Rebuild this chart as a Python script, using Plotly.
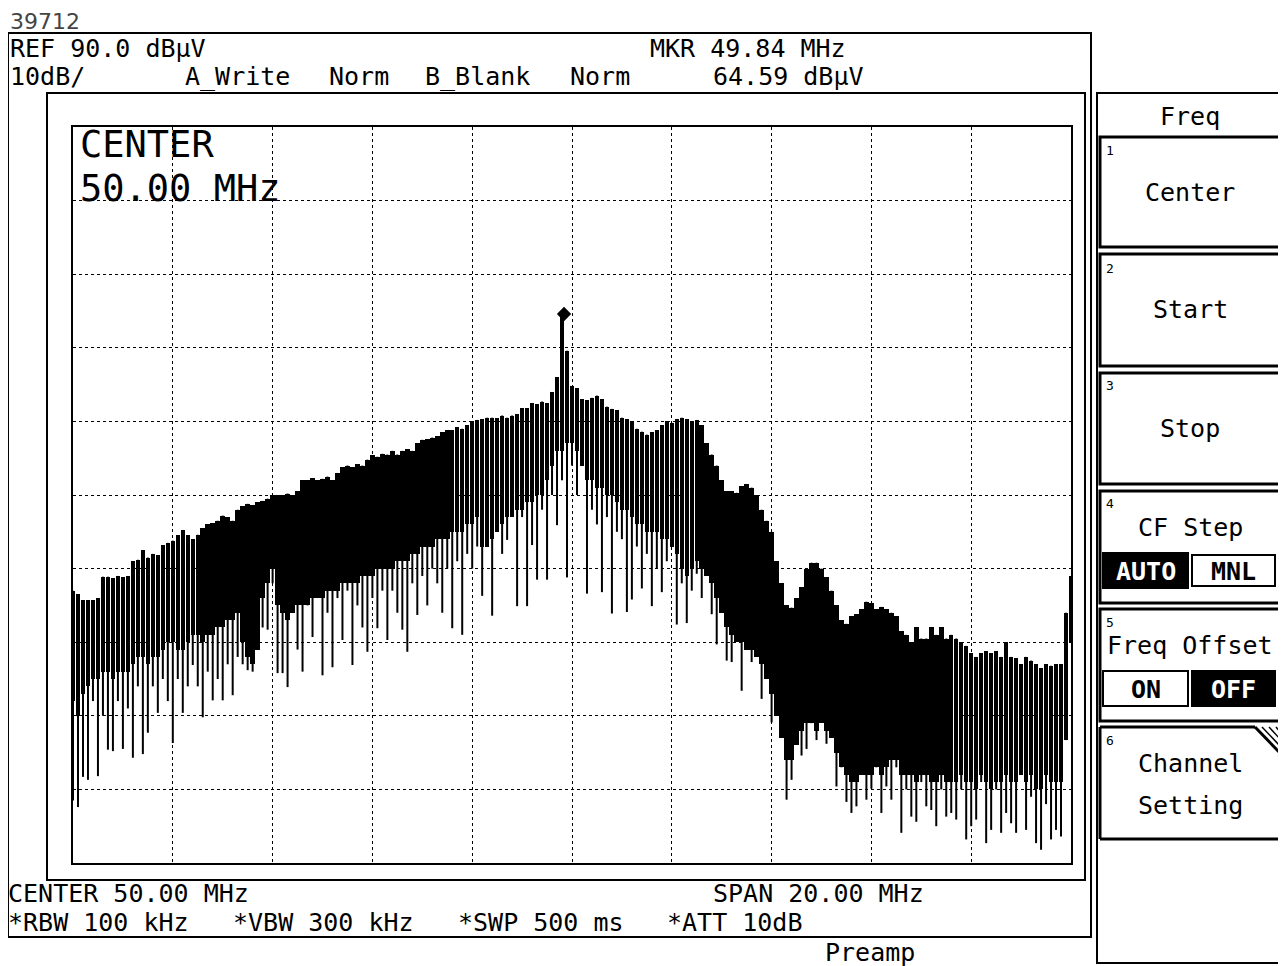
import numpy as np
import plotly.graph_objects as go

# ---------------- data ----------------
FREQ_START = 40.0      # MHz  (CENTER 50 MHz, SPAN 20 MHz)
FREQ_STOP = 60.0
REF_LEVEL = 90.0       # dBuV
DB_PER_DIV = 10.0
MARKER_FREQ = 49.84
MARKER_LEVEL = 64.59

# upper edge of the trace per 0.1 MHz bin (dBuV)
PEAK_DB = [
    27, 26.5, 25.7, 25.7, 25.7, 26, 28.9, 28.9, 28.7, 29,
    28.8, 29, 31, 31.2, 32.5, 31.5, 32, 31.8, 33.2, 33.5,
    33.8, 34.5, 35.2, 34.5, 34, 34.6, 35.5, 36, 36.2, 36.5,
    37.2, 37, 36.5, 38, 38.5, 38.8, 38.6, 39, 39.2, 39.5,
    40, 40, 40, 40.2, 40, 40.5, 42, 42, 42.3, 42,
    42.2, 42.5, 42, 43, 43.8, 44, 43.8, 44.2, 44, 44.8,
    45.4, 45.2, 45.6, 45.5, 46, 45.5, 46, 46.2, 46, 47,
    47.5, 47.6, 47.8, 48, 48.5, 48.8, 48.8, 49.2, 49, 49.5,
    50, 50.2, 50.3, 50.5, 50.5, 50.4, 50.8, 50.5, 50.8, 51,
    51.8, 51.8, 52.5, 52.3, 52.7, 52.5, 54, 56, 64.6, 59.6,
    54.8, 54.5, 53, 52.9, 53.2, 53.5, 53, 52, 51.7, 51.5,
    50.5, 50.3, 50, 49, 48.6, 48.2, 48.5, 48.8, 49.5, 50,
    49.8, 50.3, 50.5, 50.3, 50, 50.2, 49.5, 47, 45.5, 44,
    42, 40.5, 40.5, 40.3, 41.2, 41.5, 41, 40, 38, 36.5,
    35, 31, 28, 25, 24.7, 26, 27.5, 30, 30.8, 30.8,
    30, 28.8, 27, 25, 23, 22.5, 23.5, 23.8, 24.5, 25.5,
    25.3, 24.5, 24.8, 24.5, 24, 23.5, 21.5, 21, 20, 22,
    20.5, 20.5, 22, 21, 22, 20.5, 21, 20.5, 20, 19.5,
    18.5, 18, 18.5, 18.8, 18.5, 18.8, 18, 20, 18, 17.8,
    17, 18, 17.5, 17, 16.5, 17, 16.8, 17, 17, 24,
    29,
]

# lower edge of the dense black band per bin (dBuV)
BAND_DB = [
    12, 10, 13, 14, 15, 15, 16, 16, 15, 16,
    16, 16, 17, 18, 18, 17, 18, 18, 19, 20,
    20, 19, 19, 20, 21, 21, 20, 21, 21, 22,
    22, 23, 23, 24, 20, 18, 17, 19, 26, 28,
    30, 25, 24, 23, 24, 25, 25, 25, 26, 26,
    26, 27, 27, 27, 28, 28, 28, 28, 29, 29,
    29, 30, 30, 30, 30, 31, 31, 31, 32, 32,
    33, 33, 33, 34, 34, 34, 35, 35, 35, 36,
    36, 37, 33, 33, 34, 35, 36, 37, 37, 38,
    38, 39, 39, 40, 40, 42, 44, 46, 46, 47,
    47, 46, 44, 42, 42, 41, 41, 40, 40, 39,
    38, 38, 37, 36, 36, 35, 35, 35, 34, 34,
    33, 32, 30, 29, 30, 31, 30, 29, 28, 26,
    24, 22, 21, 20, 20, 19, 19, 18, 17, 15,
    13, 10, 7, 4, 4, 6, 8, 9, 9, 8,
    9, 8, 7, 5, 3, 2, 1, 1, 2, 2,
    2, 3, 2, 3, 4, 4, 2, 2, 2, 1,
    2, 2, 1, 1, 2, 1, 1, 1, 2, 1,
    1, 0, 2, 1, 0, 1, 1, 2, 1, 1,
    2, 1, 2, 0, 0, 2, 1, 1, 1, 6.7,
    20,
]

# lower tips of the spikes per bin (dBuV)
DIP_DB = [
    -1.5, -2.4, 1.7, 1.3, 12, 1.8, 10, 5.4, 5.2, 12,
    5.5, 11, 4.3, 14, 4.8, 7.7, 14, 10.4, 15, 12,
    6.3, 15, 10.4, 14, 16.9, 14, 9.8, 16, 12.1, 15,
    12.1, 17, 12.8, 18, 17, 16.2, 16, 19, 22, 21.7,
    28, 15.8, 15.8, 13.9, 24, 19, 16, 25, 20.7, 26,
    15.5, 24, 16.6, 26, 20.3, 27, 16.9, 25, 22, 18.7,
    26, 21.9, 27, 20.3, 27, 24, 21.7, 18.7, 28, 23.7,
    29, 25, 30, 28, 24, 30, 21.9, 31, 21, 32,
    30, 33, 26.3, 33, 23.6, 36, 32, 33.9, 38, 24.9,
    37, 24.9, 33.2, 28.5, 38, 28.5, 40, 35.9, 42, 28.8,
    44, 40, 45, 26.6, 38, 36, 26.8, 37, 23.9, 35,
    34, 24.1, 25.8, 33, 27.3, 32, 24.9, 30, 26.8, 31,
    35, 22.4, 28, 22.6, 27, 29.3, 26, 31, 23.8, 19.7,
    28, 17.5, 17.3, 22, 13.4, 20, 17.3, 19, 12.3, 16,
    9.1, 12, 9.8, -1.4, 1.3, 8, 4.6, 5.5, 9, 6.7,
    10, 6.2, 8, 0.4, 3, -1.7, -3.2, -2.3, 2, -1.4,
    0.1, 3, -3.2, 0.4, -1.4, 3, -5.9, 0, -3.7, -4.4,
    1, -2.3, -2.8, -5, 0, -3.7, -3.2, -4.1, 0, -6.8,
    -5, -4.1, 1, -7.3, -5.5, 0, -5.9, -3.2, -4.6, -5.9,
    2, -5.5, -1, -7.3, -8.2, -2, -6.8, -5.5, -6.4, 6.7,
    20,
]

# ---------------- build traces ----------------
freq = np.linspace(FREQ_START, FREQ_STOP, len(PEAK_DB))
bin_w = freq[1] - freq[0]

spike_x, spike_y = [], []
for f, top, lo in zip(freq, PEAK_DB, DIP_DB):
    spike_x += [f, f, None]
    spike_y += [top, lo, None]

# page has an 8px body margin: size the figure to fill the rest of the window
OFF = 8
W, H = 1286 - OFF, 966 - OFF
FONT = "DejaVu Sans Mono"


def px(x):
    return (x - OFF) / W


def py(y):
    return 1 - (y - OFF) / H


fig = go.Figure()
fig.add_trace(go.Bar(x=freq, y=[p - b for p, b in zip(PEAK_DB, BAND_DB)],
                     base=BAND_DB, width=bin_w * 0.9,
                     marker=dict(color="black", line=dict(width=0)),
                     hoverinfo="skip", showlegend=False))
fig.add_trace(go.Scatter(x=spike_x, y=spike_y, mode="lines",
                         line=dict(color="black", width=2),
                         hoverinfo="skip", showlegend=False))
fig.add_trace(go.Scatter(x=[MARKER_FREQ], y=[MARKER_LEVEL], mode="markers",
                         marker=dict(symbol="diamond", size=11, color="black"),
                         showlegend=False))

bottom = REF_LEVEL - 10 * DB_PER_DIV
fig.update_xaxes(range=[FREQ_START, FREQ_STOP], dtick=(FREQ_STOP - FREQ_START) / 10,
                 tick0=FREQ_START,
                 domain=[px(73), px(1071)], showticklabels=False, ticks="",
                 showgrid=True, gridcolor="black", gridwidth=1, griddash="dot",
                 zeroline=False, showline=True, linecolor="black", linewidth=2,
                 mirror=True)
fig.update_yaxes(range=[bottom, REF_LEVEL], dtick=DB_PER_DIV, tick0=bottom,
                 domain=[py(863), py(127)], showticklabels=False, ticks="",
                 showgrid=True, gridcolor="black", gridwidth=1, griddash="dot",
                 zeroline=False, showline=True, linecolor="black", linewidth=2,
                 mirror=True)

shapes = []


def rect(x0, y0, x1, y1, lw=2, fill=None):
    shapes.append(dict(type="rect", xref="paper", yref="paper",
                       x0=px(x0), x1=px(x1), y0=py(y1), y1=py(y0),
                       line=dict(color="black", width=lw),
                       fillcolor=fill if fill else "rgba(0,0,0,0)", layer="below"))


def line(x0, y0, x1, y1, lw=2):
    shapes.append(dict(type="line", xref="paper", yref="paper",
                       x0=px(x0), x1=px(x1), y0=py(y0), y1=py(y1),
                       line=dict(color="black", width=lw)))


# screen frames
rect(8, 33, 1091, 937, lw=2)
rect(47, 93, 1085, 880, lw=2)
# side panel
rect(1097, 93, 1284, 963, lw=2)
for (y0, y1) in [(137, 247), (254, 366), (373, 484), (491, 603), (609, 721)]:
    rect(1100, y0, 1281, y1, lw=3)
# button 6 with clipped corner
line(1100, 727, 1255, 727, 3)
line(1255, 727, 1281, 754, 3)
line(1281, 754, 1281, 839, 3)
line(1100, 839, 1281, 839, 3)
line(1100, 727, 1100, 839, 3)
for d in (7, 14, 21):
    line(1255 + d, 727, 1281, 754 - d, 1.5)
# AUTO / MNL, ON / OFF
rect(1103, 553, 1188, 588, lw=2, fill="black")
rect(1192, 555, 1275, 586, lw=2)
rect(1103, 671, 1188, 706, lw=2)
rect(1192, 671, 1275, 706, lw=2, fill="black")

ann = []


def text(x, y, s, size=25, anchor="left", color="black", family=FONT):
    ann.append(dict(x=px(x), y=py(y), xref="paper", yref="paper", text=s,
                    showarrow=False, xanchor=anchor, yanchor="middle",
                    font=dict(family=family, size=size, color=color)))


text(8, 22, "39712", size=22, color="#444", family="DejaVu Sans")
text(8, 48, "REF 90.0 dBμV")
text(8, 77, "10dB/")
text(183, 77, "A_Write")
text(327, 77, "Norm")
text(423, 77, "B_Blank")
text(568, 77, "Norm")
text(648, 48, "MKR 49.84 MHz")
text(711, 77, "64.59 dBμV")
text(78, 145, "CENTER", size=37)
text(78, 188, "50.00 MHz", size=37)
text(6, 893, "CENTER 50.00 MHz")
text(711, 893, "SPAN 20.00 MHz")
text(6, 922, "*RBW 100 kHz")
text(231, 922, "*VBW 300 kHz")
text(456, 922, "*SWP 500 ms")
text(665, 922, "*ATT 10dB")
text(823, 952, "Preamp")

# side panel text
text(1190, 117, "Freq", anchor="center")
for i, yy in zip(range(1, 7), [150, 268, 386, 504, 622, 740]):
    text(1104, yy, str(i), size=13)
text(1190, 192, "Center", anchor="center")
text(1190, 310, "Start", anchor="center")
text(1190, 428, "Stop", anchor="center")
text(1190, 527, "CF Step", anchor="center")
text(1146, 571, "<b>AUTO</b>", anchor="center", color="white")
text(1233, 571, "<b>MNL</b>", anchor="center")
text(1190, 645, "Freq Offset", anchor="center")
text(1146, 689, "<b>ON</b>", anchor="center")
text(1233, 689, "<b>OFF</b>", anchor="center", color="white")
text(1190, 763, "Channel", anchor="center")
text(1190, 805, "Setting", anchor="center")

fig.update_layout(width=W, height=H, autosize=False,
                  margin=dict(l=0, r=0, t=0, b=0),
                  paper_bgcolor="white", plot_bgcolor="white",
                  barmode="overlay", bargap=0,
                  shapes=shapes, annotations=ann, showlegend=False)

fig.write_html("out.html")
